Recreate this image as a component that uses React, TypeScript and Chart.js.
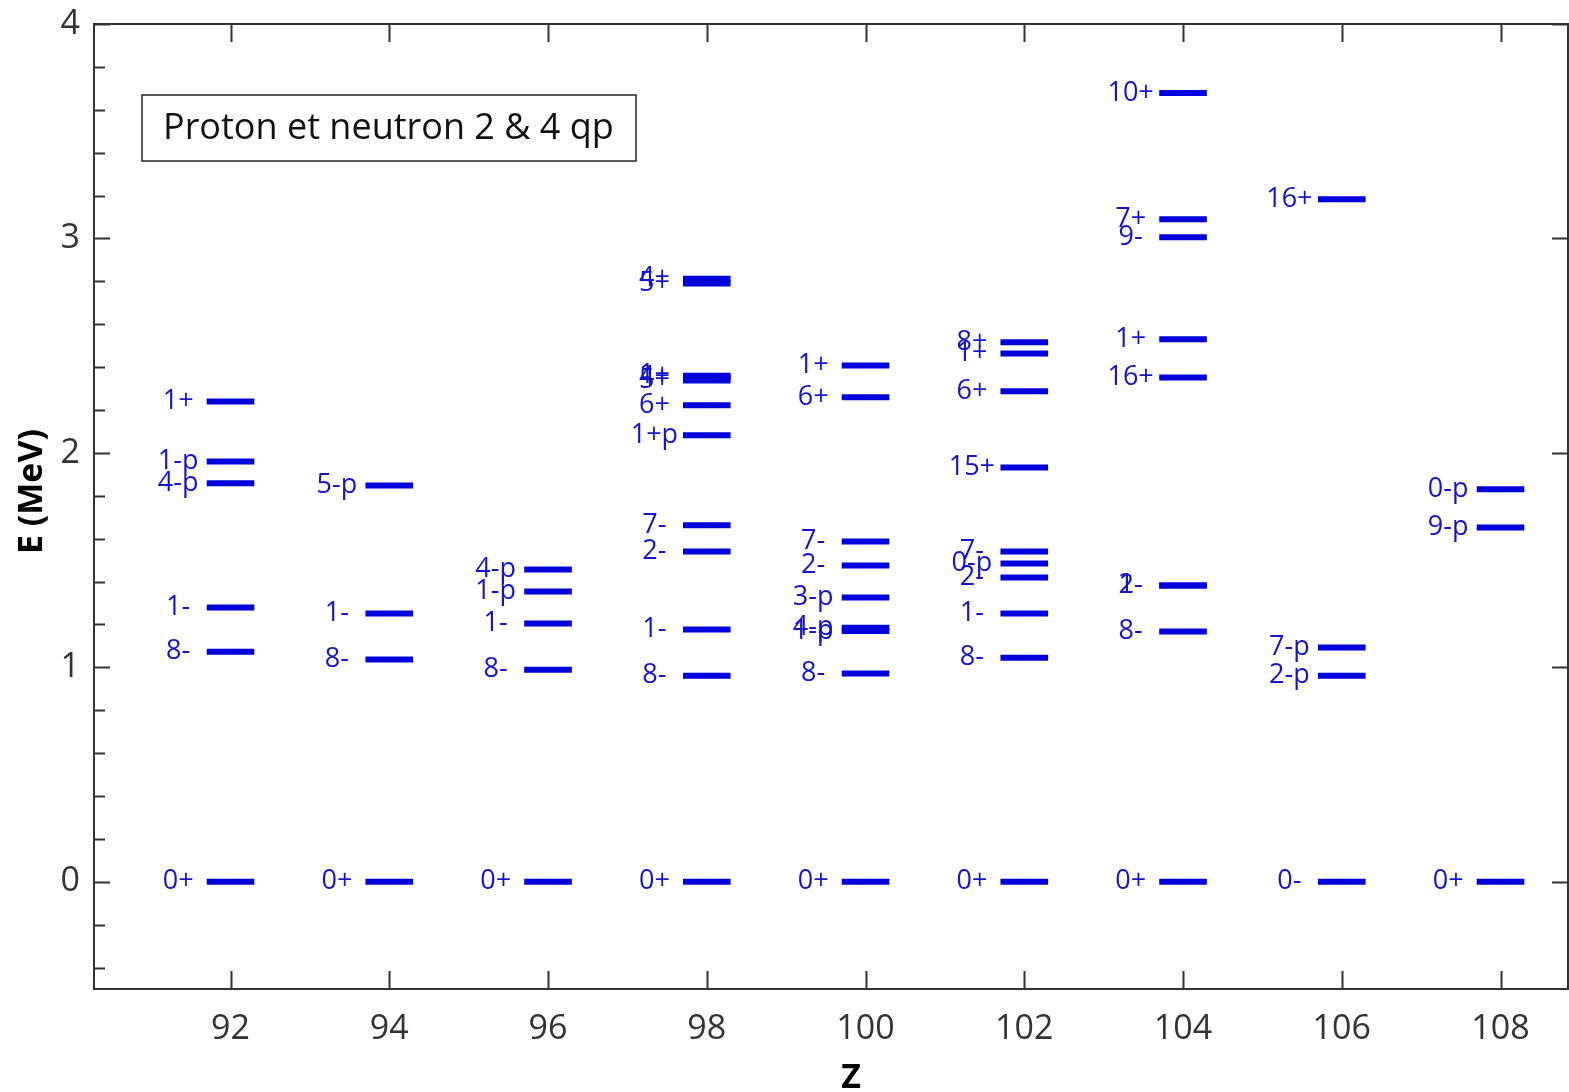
import React, { useEffect, useRef } from "react";
import { Chart, registerables } from "chart.js";

Chart.register(...registerables);

// ---- data ----
const xTickValues = [92, 94, 96, 98, 100, 102, 104, 106, 108];
const yTickValues = [0, 1, 2, 3, 4];
const yMinorTickValues = [-0.4, -0.2, 0.2, 0.4, 0.6, 0.8, 1.2, 1.4, 1.6, 1.8, 2.2, 2.4, 2.6, 2.8, 3.2, 3.4, 3.6, 3.8];

const energies92 = [0, 1.073, 1.279, 1.858, 1.96, 2.24];
const labels92 = ["0+", "8-", "1-", "4-p", "1-p", "1+"];

const energies94 = [0, 1.036, 1.251, 1.848];
const labels94 = ["0+", "8-", "1-", "5-p"];

const energies96 = [0, 0.989, 1.204, 1.354, 1.456];
const labels96 = ["0+", "8-", "1-", "1-p", "4-p"];

const energies98 = [0, 0.961, 1.176, 1.54, 1.662, 2.082, 2.222, 2.338, 2.352, 2.36, 2.79, 2.812];
const labels98 = ["0+", "8-", "1-", "2-", "7-", "1+p", "6+", "5+", "4+", "1+", "5+", "4+"];

const energies100 = [0, 0.971, 1.17, 1.185, 1.326, 1.475, 1.587, 2.259, 2.408];
const labels100 = ["0+", "8-", "1-p", "4-p", "3-p", "2-", "7-", "6+", "1+"];

const energies102 = [0, 1.045, 1.251, 1.419, 1.484, 1.54, 1.932, 2.287, 2.464, 2.516];
const labels102 = ["0+", "8-", "1-", "2-", "0-p", "7-", "15+", "6+", "1+", "8+"];

const energies104 = [0, 1.167, 1.382, 1.382, 2.352, 2.53, 3.006, 3.09, 3.678];
const labels104 = ["0+", "8-", "2-", "1-", "16+", "1+", "9-", "7+", "10+"];

const energies106 = [0, 0.961, 1.092, 3.183];
const labels106 = ["0-", "2-p", "7-p", "16+"];

const energies108 = [0, 1.652, 1.83];
const labels108 = ["0+", "9-p", "0-p"];

const keyText = "Proton et neutron 2 & 4 qp";
const xTitle = "Z";
const yTitle = "E (MeV)";

const nuclei = [
  { z: 92, e: energies92, l: labels92 },
  { z: 94, e: energies94, l: labels94 },
  { z: 96, e: energies96, l: labels96 },
  { z: 98, e: energies98, l: labels98 },
  { z: 100, e: energies100, l: labels100 },
  { z: 102, e: energies102, l: labels102 },
  { z: 104, e: energies104, l: labels104 },
  { z: 106, e: energies106, l: labels106 },
  { z: 108, e: energies108, l: labels108 },
];

// ---- style ----
const W = 1569;
const H = 1092;
const FONT = "'Open Sans', 'Noto Sans', sans-serif";
const BAR = "#0000dd";
const TEXT_BLUE = "#1414cc";
const AXIS = "#333333";
const HALF = 0.3;
const LABEL_OFFSET = 0.66;

const levelLabelsPlugin = {
  id: "levelLabels",
  afterDatasetsDraw(chart: any) {
    const { ctx, scales } = chart;
    ctx.save();
    ctx.font = `27px ${FONT}`;
    ctx.fillStyle = TEXT_BLUE;
    ctx.textAlign = "center";
    ctx.textBaseline = "middle";
    nuclei.forEach((n) => {
      n.e.forEach((E, i) => {
        const px = scales.x.getPixelForValue(n.z - LABEL_OFFSET);
        const py = scales.y.getPixelForValue(E);
        ctx.fillText(n.l[i], px, py);
      });
    });
    ctx.restore();
  },
};

const framePlugin = {
  id: "frame",
  afterDraw(chart: any) {
    const { ctx, chartArea, scales } = chart;
    const { left, right, top, bottom } = chartArea;
    ctx.save();
    ctx.strokeStyle = AXIS;
    ctx.lineWidth = 2;
    ctx.strokeRect(left, top, right - left, bottom - top);
    ctx.beginPath();
    xTickValues.forEach((v) => {
      const px = Math.round(scales.x.getPixelForValue(v)) + 0.5;
      ctx.moveTo(px, bottom);
      ctx.lineTo(px, bottom - 18);
      ctx.moveTo(px, top);
      ctx.lineTo(px, top + 18);
    });
    yTickValues.forEach((v) => {
      const py = Math.round(scales.y.getPixelForValue(v)) + 0.5;
      ctx.moveTo(left, py);
      ctx.lineTo(left + 16, py);
      ctx.moveTo(right, py);
      ctx.lineTo(right - 16, py);
    });
    yMinorTickValues.forEach((v) => {
      const py = Math.round(scales.y.getPixelForValue(v)) + 0.5;
      ctx.moveTo(left, py);
      ctx.lineTo(left + 11, py);
    });
    ctx.stroke();

    // key box
    const bx = left + 48;
    const by = top + 71;
    ctx.lineWidth = 1.5;
    ctx.strokeStyle = "#222";
    ctx.strokeRect(bx, by, 494, 66);
    ctx.fillStyle = "#111";
    ctx.font = `36px ${FONT}`;
    ctx.textAlign = "left";
    ctx.textBaseline = "middle";
    ctx.fillText(keyText, bx + 21, by + 34);

    // axis titles
    ctx.fillStyle = "#000";
    ctx.font = `bold 34px ${FONT}`;
    ctx.textAlign = "center";
    ctx.textBaseline = "middle";
    ctx.fillText(xTitle, (left + right) / 2 + 20, bottom + 89);
    ctx.translate(32, (top + bottom) / 2 - 15);
    ctx.rotate(-Math.PI / 2);
    ctx.fillText(yTitle, 0, 0);
    ctx.restore();
  },
};

export default function App() {
  const ref = useRef<HTMLCanvasElement | null>(null);

  useEffect(() => {
    if (!ref.current) return;
    const datasets: any[] = [];
    nuclei.forEach((n) => {
      n.e.forEach((E) => {
        datasets.push({
          type: "line",
          data: [
            { x: n.z - HALF, y: E },
            { x: n.z + HALF, y: E },
          ],
          borderColor: BAR,
          borderWidth: 6,
          borderCapStyle: "butt",
          pointRadius: 0,
          fill: false,
        });
      });
    });

    const chart = new Chart(ref.current, {
      type: "line",
      data: { datasets },
      options: {
        responsive: false,
        animation: false,
        events: [],
        layout: { padding: { top: 24, right: 1, left: 0, bottom: 0 } },
        plugins: { legend: { display: false }, tooltip: { enabled: false } },
        scales: {
          x: {
            type: "linear",
            min: 90.28,
            max: 108.85,
            afterBuildTicks: (s: any) => {
              s.ticks = xTickValues.map((v) => ({ value: v }));
            },
            afterFit: (s: any) => {
              s.height = 103;
              s.paddingLeft = 0;
              s.paddingRight = 0;
            },
            grid: { display: false, drawTicks: false },
            border: { display: false },
            ticks: {
              color: AXIS,
              padding: 20,
              font: { size: 34, family: FONT },
              maxRotation: 0,
            },
            title: { display: false },
          },
          y: {
            type: "linear",
            min: -0.5,
            max: 4,
            afterBuildTicks: (s: any) => {
              s.ticks = yTickValues.map((v) => ({ value: v }));
            },
            afterFit: (s: any) => {
              s.width = 94;
              s.paddingTop = 0;
              s.paddingBottom = 0;
            },
            grid: { display: false, drawTicks: false },
            border: { display: false },
            ticks: {
              color: AXIS,
              padding: 14,
              font: { size: 34, family: FONT },
            },
            title: { display: false },
          },
        },
      } as any,
      plugins: [levelLabelsPlugin, framePlugin],
    });
    return () => chart.destroy();
  }, []);

  return (
    <div style={{ position: "fixed", left: 0, top: 0, width: W, height: H, background: "#fff" }}>
      <canvas ref={ref} width={W} height={H} style={{ display: "block" }} />
    </div>
  );
}
